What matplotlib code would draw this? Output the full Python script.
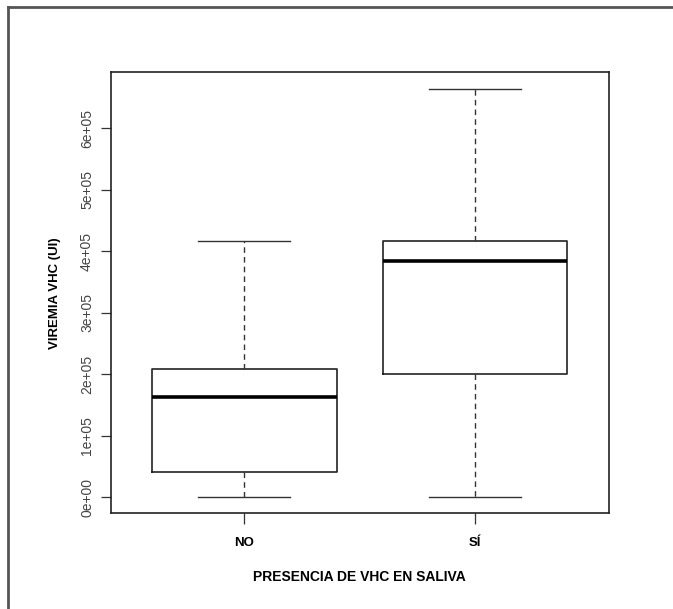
import matplotlib.pyplot as plt
from matplotlib.lines import Line2D

groups = ["NO", "SÍ"]
whis_low = [0, 0]
q1 = [41000, 201000]
medians = [163000, 384000]
q3 = [208000, 417000]
whis_high = [417000, 665000]
y_ticks = [0, 100000, 200000, 300000, 400000, 500000, 600000]
y_tick_labels = ["0e+00", "1e+05", "2e+05", "3e+05", "4e+05", "5e+05", "6e+05"]

fig = plt.figure(figsize=(6.73, 6.09), dpi=100)
ax = fig.add_axes([110.7 / 673, 1 - 513.4 / 609, (608.6 - 110.7) / 673, (513.4 - 72.2) / 609])

stats = []
for i, g in enumerate(groups):
    stats.append({"label": g, "whislo": whis_low[i], "q1": q1[i], "med": medians[i],
                  "q3": q3[i], "whishi": whis_high[i], "fliers": []})

ax.bxp(stats, positions=[1, 2], widths=0.8, showfliers=False,
       boxprops=dict(color="#222222", linewidth=1.2),
       medianprops=dict(color="black", linewidth=2.6),
       whiskerprops=dict(color="#333333", linewidth=1.0, linestyle=(0, (4, 3))),
       capprops=dict(color="#333333", linewidth=1.0),
       capwidths=0.4)

ax.set_xlim(0.42, 2.58)
rng = max(whis_high) - min(whis_low)
ax.set_ylim(min(whis_low) - 0.04 * rng, max(whis_high) + 0.04 * rng)

bold_font = ["Liberation Sans", "DejaVu Sans"]
ax.set_yticks(y_ticks)
ax.set_yticklabels(y_tick_labels, rotation=90, va="center", fontsize=10,
                   color="#444444", family="Liberation Sans")
ax.set_xticks([1, 2])
ax.set_xticklabels(groups, fontsize=9.5, fontweight="bold", family=bold_font)
ax.tick_params(axis="y", length=7, width=0.9, color="#333333", pad=5)
ax.tick_params(axis="x", length=8, width=0.9, color="#333333", pad=9)

for s in ax.spines.values():
    s.set_linewidth(1.2)
    s.set_color("#222222")

ax.set_xlabel("PRESENCIA DE VHC EN SALIVA", fontsize=10, fontweight="bold",
              family=bold_font, labelpad=15)
ax.set_ylabel("VIREMIA VHC (UI)", fontsize=9.5, fontweight="bold",
              family=bold_font, labelpad=14)

# marco exterior (solo arriba e izquierda)
fig.add_artist(Line2D([8 / 673, 1], [1 - 7 / 609, 1 - 7 / 609], color="#555555",
                      linewidth=2, transform=fig.transFigure))
fig.add_artist(Line2D([8 / 673, 8 / 673], [0, 1 - 7 / 609], color="#555555",
                      linewidth=2, transform=fig.transFigure))

fig.savefig("out.png", dpi=100)
